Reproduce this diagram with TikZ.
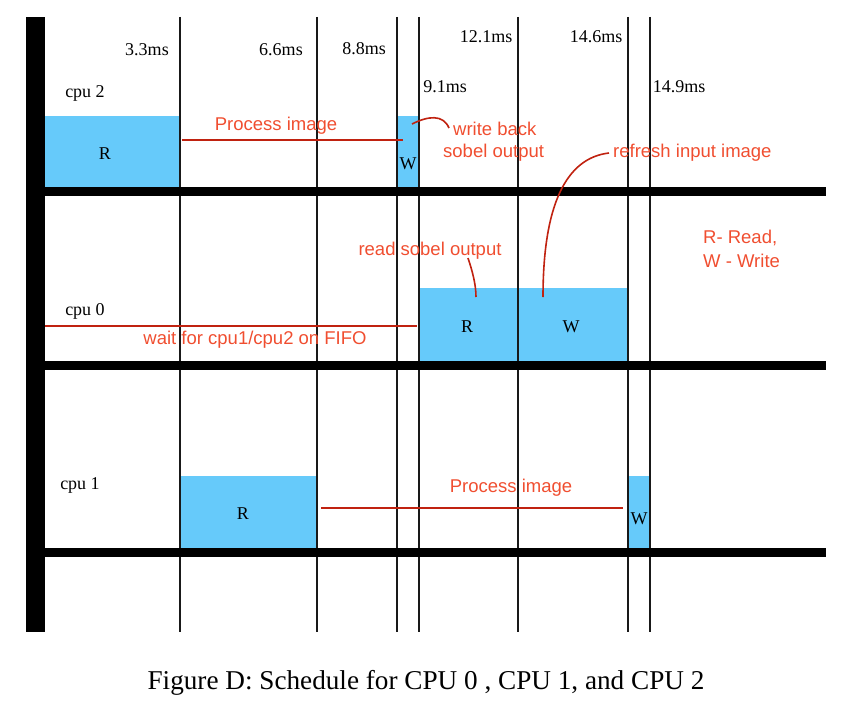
\documentclass[tikz,border=0pt]{standalone}
\usepackage{fontspec}
\setmainfont{Liberation Serif}
\newfontfamily\annfont{Liberation Sans}
\definecolor{boxblue}{RGB}{102,202,250}
\definecolor{anntext}{RGB}{240,78,48}
\definecolor{annline}{RGB}{192,34,16}
\begin{document}
\begin{tikzpicture}[x=1pt,y=-1pt,
  blk/.style={fill=boxblue,draw=none,inner sep=0pt,anchor=north west},
  vline/.style={line width=2pt,draw=black!90},
  hbar/.style={line width=9pt,draw=black},
  tlabel/.style={inner sep=0pt,font=\fontsize{18}{20}\selectfont},
  ann/.style={inner sep=0pt,text=anntext,font=\annfont\fontsize{18.5}{21}\selectfont},
  redline/.style={draw=annline,line width=1.6pt}]
\useasboundingbox (0,0) rectangle (849,701);
% blue boxes
\node[blk,minimum width=135pt,minimum height=71pt] (r2) at (45,116) {};
\node[blk,minimum width=22pt,minimum height=71pt] (w2) at (397,116) {};
\node[blk,minimum width=99pt,minimum height=73pt] (r0) at (419,288) {};
\node[blk,minimum width=110pt,minimum height=73pt] (w0) at (518,288) {};
\node[blk,minimum width=137pt,minimum height=72pt] (r1) at (180,476) {};
\node[blk,minimum width=22pt,minimum height=72pt] (w1) at (628,476) {};
% grid
\foreach \xx in {180,317,397,419,518,628,650}
  \draw[vline] (\xx,17) -- (\xx,632);
\fill[black] (26,17) rectangle (45,632);
\foreach \yy in {191.5,365.5,552.5}
  \draw[hbar] (45,\yy) -- (826,\yy);
% time labels
\node[tlabel] (t33) at (147,50) {3.3ms};
\node[tlabel] (t66) at (281,50) {6.6ms};
\node[tlabel] (t88) at (364,49) {8.8ms};
\node[tlabel] (t121) at (486,37) {12.1ms};
\node[tlabel] (t146) at (596,37) {14.6ms};
\node[tlabel] (t91) at (445,87) {9.1ms};
\node[tlabel] (t149) at (679,87) {14.9ms};
% cpu labels
\node[tlabel] (c2) at (85,93) {cpu 2};
\node[tlabel] (c0) at (85,311) {cpu 0};
\node[tlabel] (c1) at (80,485) {cpu 1};
% R / W labels
\node[tlabel] (r2t) at (105,154) {R};
\node[tlabel] (w2t) at (408,164) {W};
\node[tlabel] (r0t) at (467,327) {R};
\node[tlabel] (w0t) at (571,327) {W};
\node[tlabel] (r1t) at (243,514) {R};
\node[tlabel] (w1t) at (639,519) {W};
% annotations
\node[ann] (pi2) at (276,126) {Process image};
\node[ann,anchor=west] (wb) at (453,129) {write back};
\node[ann,anchor=west] (so) at (443,153) {sobel output};
\node[ann,anchor=west] (rf) at (613,153) {refresh input image};
\node[ann] (rs) at (430,251) {read sobel output};
\node[ann,anchor=west] (rr) at (703,238) {R- Read,};
\node[ann,anchor=west] (ww) at (703,261) {W - Write};
\node[ann] (wf) at (255,340) {wait for cpu1/cpu2 on FIFO};
\node[ann] (pi1) at (511,488) {Process image};
% connector end points
\coordinate (p2a) at (182,140);
\coordinate (p2b) at (403,140);
\coordinate (wba) at (412,124);
\coordinate (wbb) at (449,128);
\coordinate (rfa) at (609,153);
\coordinate (rfb) at (543,297);
\coordinate (rsa) at (468,258);
\coordinate (rsb) at (476,297);
\coordinate (wfa) at (45,326);
\coordinate (wfb) at (417,326);
\coordinate (p1a) at (321,508);
\coordinate (p1b) at (623,508);
\draw[redline] (p2a) -- (p2b);
\draw[redline] (wba) .. controls (428,116) and (443,114) .. (wbb);
\draw[redline] (rfa) .. controls (566,158) and (543,205) .. (rfb);
\draw[redline] (rsa) .. controls (472,270) and (476,284) .. (rsb);
\draw[redline] (wfa) -- (wfb);
\draw[redline] (p1a) -- (p1b);
% caption
\node[inner sep=0pt,font=\fontsize{27.2}{30}\selectfont] (cap) at (426,683) {Figure D: Schedule for CPU 0 , CPU 1, and CPU 2};
\end{tikzpicture}
\end{document}
